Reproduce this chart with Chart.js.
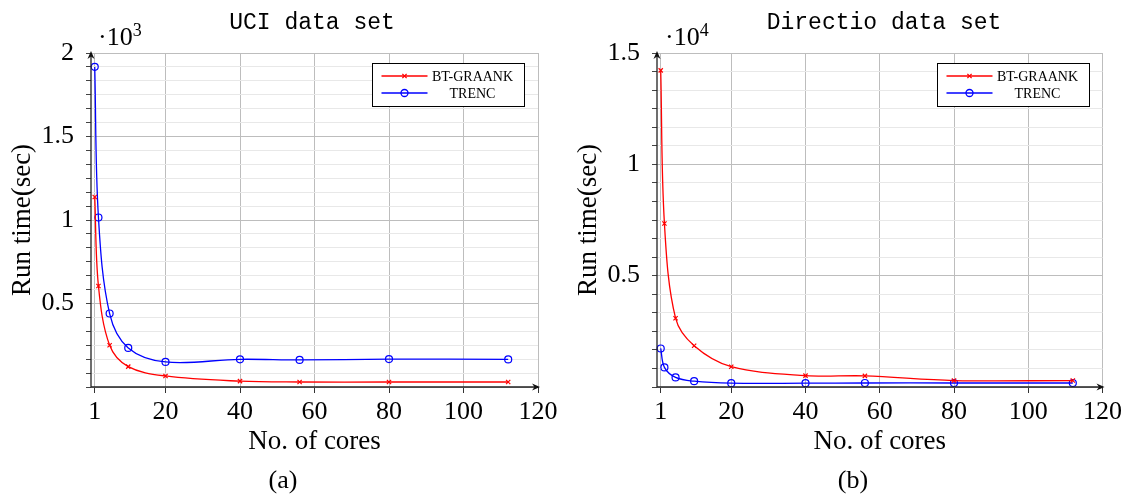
<!DOCTYPE html>
<html>
<head>
<meta charset="utf-8">
<title>Run time vs cores</title>
<script src="https://cdn.jsdelivr.net/npm/chart.js@4/dist/chart.umd.min.js"></script>
<style>
  html, body { margin: 0; padding: 0; background: #fff; }
  #page { position: relative; width: 1126px; height: 494px; overflow: hidden; font-family: "Liberation Serif", serif; color: #000; }
  .panel { position: absolute; top: 0; height: 494px; }
  .title { position: absolute; top: 12px; font-family: "Liberation Mono", monospace; font-size: 23px; line-height: 1; white-space: nowrap; transform: translateX(-50%); }
  .expo { position: absolute; top: 21px; font-size: 26px; line-height: 1; white-space: nowrap; }
  .expo span { font-size: 18px; vertical-align: 9px; }
  .caption { position: absolute; top: 467px; font-size: 26px; line-height: 1; transform: translateX(-50%); }
</style>
</head>
<body>
<div id="page">
  <canvas id="uciChart" class="panel" style="left:0" width="563" height="494"></canvas>
  <canvas id="directioChart" class="panel" style="left:566px" width="560" height="494"></canvas>

  <div class="title" style="left:312px">UCI data set</div>
  <div class="title" style="left:884px">Directio data set</div>
  <div class="expo" style="left:98px">·10<span>3</span></div>
  <div class="expo" style="left:665px">·10<span>4</span></div>
  <div class="caption" style="left:283px">(a)</div>
  <div class="caption" style="left:853px">(b)</div>
</div>

<script>
// number of cores used in both experiments
const cores = [1, 2, 5, 10, 20, 40, 56, 80, 112];
const xTicks = [1, 20, 40, 60, 80, 100, 120];

// UCI data set, run time in units of 10^3 sec
const uciGraank = [1.138, 0.605, 0.25, 0.122, 0.066, 0.035, 0.03, 0.03, 0.03];
const uciTrenc = [1.917, 1.015, 0.44, 0.234, 0.15, 0.166, 0.162, 0.167, 0.165];
const uciYTicks = [0.5, 1, 1.5, 2];

// Directio data set, run time in units of 10^4 sec
const dirGraank = [1.422, 0.734, 0.309, 0.185, 0.091, 0.051, 0.05, 0.029, 0.029];
const dirTrenc = [0.173, 0.088, 0.043, 0.026, 0.017, 0.017, 0.018, 0.018, 0.018];
const dirYTicks = [0.5, 1, 1.5];

const MINOR_PER_MAJOR = 6;
const RED = '#ff0000';
const BLUE = '#0000ff';
const SERIF = '"Liberation Serif", serif';

function drawArrow(ctx, x, y, dir) {
  // small stealth arrow head, dir: 'up' or 'right'
  ctx.beginPath();
  if (dir === 'up') {
    ctx.moveTo(x, y);
    ctx.lineTo(x - 3.5, y + 8);
    ctx.lineTo(x, y + 5.5);
    ctx.lineTo(x + 3.5, y + 8);
  } else {
    ctx.moveTo(x, y);
    ctx.lineTo(x - 8, y - 3.5);
    ctx.lineTo(x - 5.5, y);
    ctx.lineTo(x - 8, y + 3.5);
  }
  ctx.closePath();
  ctx.fill();
}

const pgfAxes = {
  id: 'pgfAxes',
  afterDatasetsDraw(chart) {
    const { ctx, chartArea: a } = chart;
    ctx.save();
    ctx.strokeStyle = '#222';
    ctx.fillStyle = '#111';
    ctx.lineWidth = 1.3;
    ctx.beginPath();
    ctx.moveTo(a.left, a.bottom);
    ctx.lineTo(a.left, a.top);
    ctx.moveTo(a.left - 0.6, a.bottom);
    ctx.lineTo(a.right, a.bottom);
    ctx.stroke();
    drawArrow(ctx, a.left, a.top - 2, 'up');
    drawArrow(ctx, a.right + 2, a.bottom, 'right');

    // legend box in the top right corner
    const bx = Math.round(a.right - 166) + 0.5;
    const by = Math.round(a.top + 10) + 0.5;
    ctx.fillStyle = '#fff';
    ctx.fillRect(bx, by, 152, 43);
    ctx.strokeStyle = '#000';
    ctx.lineWidth = 1;
    ctx.strokeRect(bx, by, 152, 43);

    chart.data.datasets.forEach((ds, i) => {
      const y = by + 12.5 + i * 17;
      ctx.strokeStyle = ds.borderColor;
      ctx.lineWidth = 1.3;
      ctx.beginPath();
      ctx.moveTo(bx + 9, y);
      ctx.lineTo(bx + 55, y);
      ctx.stroke();
      ctx.fillStyle = 'rgba(255,255,255,0)';
      Chart.helpers.drawPoint(ctx, {
        pointStyle: ds.pointStyle,
        radius: ds.pointRadius,
        borderWidth: 1.2
      }, bx + 32, y);
      ctx.fillStyle = '#000';
      ctx.font = '14px ' + SERIF;
      ctx.textAlign = 'center';
      ctx.textBaseline = 'middle';
      ctx.fillText(ds.label, bx + 100, y + 1);
    });
    ctx.restore();
  }
};

function formatTick(v) {
  return String(Math.round(v * 10) / 10);
}

function makeChart(canvasId, graank, trenc, yTicks, rightPad) {
  const yMax = yTicks[yTicks.length - 1];
  const step = (yTicks[1] - yTicks[0]) / MINOR_PER_MAJOR;

  const ctx = document.getElementById(canvasId).getContext('2d');
  return new Chart(ctx, {
    type: 'line',
    data: {
      datasets: [{
        label: 'BT-GRAANK',
        data: cores.map((c, i) => ({ x: c, y: graank[i] })),
        borderColor: RED,
        backgroundColor: RED,
        borderWidth: 1.3,
        tension: 0.35,
        pointStyle: 'crossRot',
        pointRadius: 3,
        pointBorderWidth: 1.2,
        pointBorderColor: RED,
        fill: false
      }, {
        label: 'TRENC',
        data: cores.map((c, i) => ({ x: c, y: trenc[i] })),
        borderColor: BLUE,
        backgroundColor: BLUE,
        borderWidth: 1.3,
        tension: 0.35,
        pointStyle: 'circle',
        pointRadius: 3.5,
        pointBorderWidth: 1.2,
        pointBorderColor: BLUE,
        pointBackgroundColor: 'rgba(255,255,255,0)',
        fill: false
      }]
    },
    options: {
      responsive: false,
      animation: false,
      devicePixelRatio: 1,
      clip: false,
      layout: { padding: { top: 53, right: rightPad, bottom: 0, left: 0 } },
      plugins: {
        legend: { display: false },
        tooltip: { enabled: false }
      },
      scales: {
        x: {
          type: 'linear',
          min: 0,
          max: 120,
          afterBuildTicks: s => { s.ticks = xTicks.map(v => ({ value: v })); },
          afterFit: s => { s.height = 107; },
          border: { display: false },
          grid: {
            color: '#bdbdbd',
            lineWidth: 1,
            tickLength: 6,
            tickColor: '#333'
          },
          ticks: {
            color: '#000',
            padding: 4,
            maxRotation: 0,
            autoSkip: false,
            font: { family: SERIF, size: 26 },
            callback: v => String(v)
          },
          title: {
            display: true,
            text: 'No. of cores',
            color: '#000',
            font: { family: SERIF, size: 27 },
            padding: { top: 0, bottom: 36 }
          }
        },
        y: {
          min: 0,
          max: yMax,
          afterBuildTicks: s => {
            const n = Math.round(yMax / step);
            s.ticks = Array.from({ length: n + 1 }, (_, i) => ({ value: i * step }));
          },
          afterFit: s => { s.width = 91; },
          border: { display: false },
          grid: {
            color: c => (c.index % MINOR_PER_MAJOR === 0 ? '#bdbdbd' : '#e8e8e8'),
            lineWidth: 1,
            tickLength: 5,
            tickColor: '#444'
          },
          ticks: {
            color: '#000',
            padding: 12,
            autoSkip: false,
            font: { family: SERIF, size: 26 },
            callback: (v, i) => (i > 0 && i % MINOR_PER_MAJOR === 0 ? formatTick(v) : '')
          },
          title: {
            display: true,
            text: 'Run time(sec)',
            color: '#000',
            font: { family: SERIF, size: 27 },
            padding: { top: 7, bottom: 0 }
          }
        }
      }
    },
    plugins: [pgfAxes]
  });
}

makeChart('uciChart', uciGraank, uciTrenc, uciYTicks, 25);
makeChart('directioChart', dirGraank, dirTrenc, dirYTicks, 22);
</script>
</body>
</html>
